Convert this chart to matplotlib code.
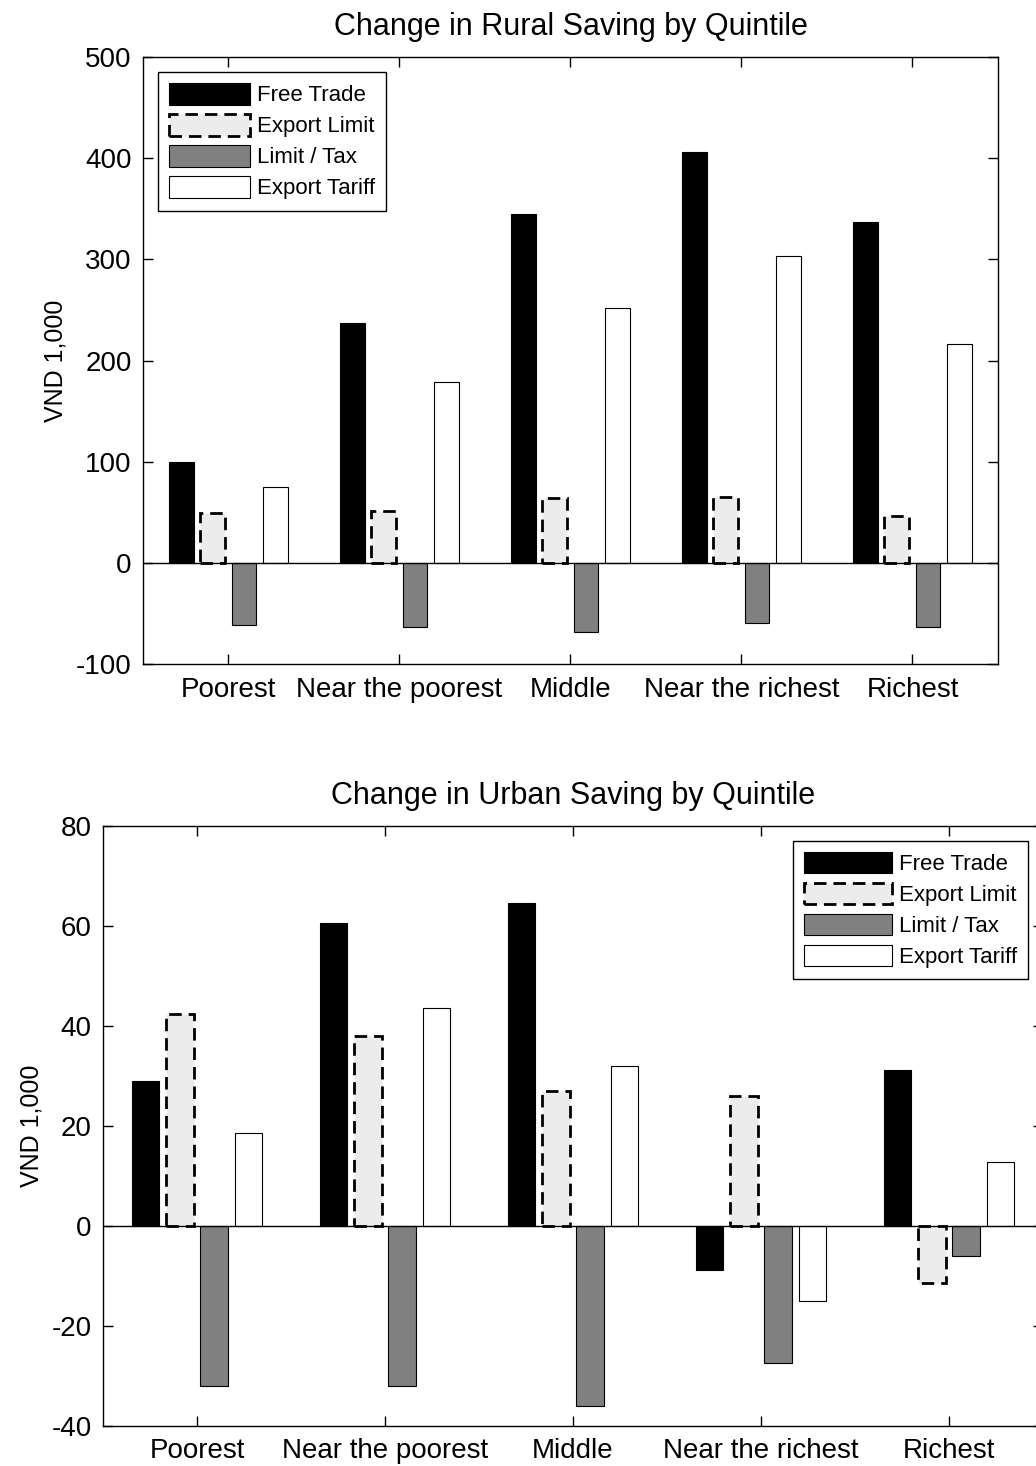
import matplotlib
matplotlib.use("Agg")
import matplotlib.pyplot as plt
import numpy as np

plt.rcParams['font.family'] = ['Liberation Sans', 'DejaVu Sans']
plt.rcParams['axes.unicode_minus'] = False

quintiles = ["Poorest", "Near the poorest", "Middle", "Near the richest", "Richest"]
scenarios = ["Free Trade", "Export Limit", "Limit / Tax", "Export Tariff"]

# rural saving change, VND 1,000
rural_free_trade = [100, 237, 345, 406, 337]
rural_export_limit = [49, 51, 64, 65, 46]
rural_limit_tax = [-61, -63, -68, -59, -63]
rural_export_tariff = [75, 179, 252, 303, 216]

# urban saving change, VND 1,000
urban_free_trade = [28.9, 60.5, 64.5, -8.8, 31.2]
urban_export_limit = [42.3, 38.0, 27.0, 26.0, -11.5]
urban_limit_tax = [-32.0, -32.0, -36.0, -27.5, -6.0]
urban_export_tariff = [18.5, 43.5, 32.0, -15.0, 12.7]

# bar look for each scenario (matlab style grouped bars)
styles = [
    dict(facecolor='black', edgecolor='black', linewidth=0.8, linestyle='-'),
    dict(facecolor='#ececec', edgecolor='black', linewidth=2.0, linestyle=(0, (4.5, 2.5))),
    dict(facecolor='#808080', edgecolor='black', linewidth=0.8, linestyle='-'),
    dict(facecolor='white', edgecolor='black', linewidth=0.8, linestyle='-'),
]


def grouped_bars(ax, series, title, yticks, handlelength, legend_loc, anchor, labelpad):
    n = len(series)
    x = np.arange(1, len(quintiles) + 1)
    group_width = min(0.8, n / (n + 1.5))
    step = group_width / n
    width = 0.8 * step
    for i, (vals, name, st) in enumerate(zip(series, scenarios, styles)):
        offset = (i - (n - 1) / 2) * step
        ax.bar(x + offset, vals, width, label=name, **st)
    ax.axhline(0, color='black', linewidth=1.0, zorder=3)
    ax.set_xlim(0.5, len(quintiles) + 0.5)
    ax.set_ylim(yticks[0], yticks[-1])
    ax.set_yticks(yticks)
    ax.set_xticks(x)
    ax.set_xticklabels(quintiles)
    ax.tick_params(direction='in', top=True, right=True, length=7, width=1,
                   labelsize=20)
    ax.tick_params(axis='x', pad=9)
    ax.tick_params(axis='y', pad=8)
    for sp in ax.spines.values():
        sp.set_linewidth(1.0)
    ax.set_title(title, fontsize=22, pad=16)
    ax.set_ylabel("VND 1,000", fontsize=18, labelpad=labelpad)
    leg = ax.legend(loc=legend_loc, bbox_to_anchor=anchor, fontsize=16,
                    handlelength=handlelength, handleheight=1.1,
                    handletextpad=0.3, labelspacing=0.35, borderpad=0.5,
                    borderaxespad=0.68, fancybox=False, framealpha=1,
                    edgecolor='black')
    leg.get_frame().set_linewidth(1.0)


fig = plt.figure(figsize=(10.36, 14.66), dpi=100)

ax1 = fig.add_axes([0.138, 0.547, 0.8253, 0.4141])
grouped_bars(ax1, [rural_free_trade, rural_export_limit, rural_limit_tax, rural_export_tariff],
             "Change in Rural Saving by Quintile", [-100, 0, 100, 200, 300, 400, 500],
             3.65, 'upper left', (0, 1), 6)

# bottom panel runs a bit past the right edge, like the original
ax2 = fig.add_axes([0.0994, 0.0273, 0.9073, 0.4093])
grouped_bars(ax2, [urban_free_trade, urban_export_limit, urban_limit_tax, urban_export_tariff],
             "Change in Urban Saving by Quintile", [-40, -20, 0, 20, 40, 60, 80],
             3.95, 'upper right', (1, 1), 6)

fig.savefig("out.png", dpi=100)
